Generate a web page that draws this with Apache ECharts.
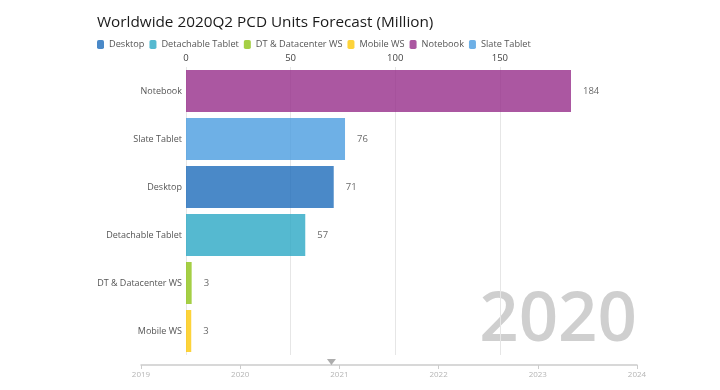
<!DOCTYPE html>
<html>
<head>
<meta charset="utf-8">
<script src="https://cdn.jsdelivr.net/npm/echarts@6/dist/echarts.min.js"></script>
<style>html,body{margin:0;padding:0;background:#fff}#c{width:720px;height:390px}</style>
</head>
<body>
<div id="c"></div>
<script>
// ---- data ----
var titleText = 'Worldwide 2020Q2 PCD Units Forecast (Million)';
var yearText = '2020';
var categories = ['Notebook', 'Slate Tablet', 'Desktop', 'Detachable Tablet', 'DT & Datacenter WS', 'Mobile WS'];
var values = [184, 76, 70.6, 57, 2.7, 2.5];
var legendOrder = ['Desktop', 'Detachable Tablet', 'DT & Datacenter WS', 'Mobile WS', 'Notebook', 'Slate Tablet'];
var colorsByName = {
  'Desktop': '#1d6bba',
  'Detachable Tablet': '#2aa7c4',
  'DT & Datacenter WS': '#8ec316',
  'Mobile WS': '#fcc809',
  'Notebook': '#962d8a',
  'Slate Tablet': '#4a9ce0'
};
var timelineStart = 2019;
var timelineEnd = 2024;
var timelinePointer = 2020.92;

// ---- chart ----
var FONT = '"Open Sans", "Noto Sans", sans-serif';
var series = legendOrder.map(function (name) {
  var idx = categories.indexOf(name);
  return {
    name: name,
    type: 'bar',
    stack: 'all',
    xAxisIndex: 0,
    yAxisIndex: 0,
    barCategoryGap: '12.5%',
    itemStyle: { color: colorsByName[name], opacity: 0.8 },
    label: {
      show: true,
      position: 'right',
      distance: 12,
      color: '#444',
      fontSize: 9.5,
      fontFamily: FONT,
      formatter: function (p) { return Math.round(p.value); }
    },
    data: categories.map(function (c, j) { return j === idx ? values[idx] : '-'; })
  };
});
series.push({
  type: 'scatter',
  xAxisIndex: 1,
  yAxisIndex: 1,
  symbol: 'triangle',
  symbolRotate: 180,
  symbolSize: [9, 6],
  symbolOffset: [0, -3],
  itemStyle: { color: '#999' },
  silent: true,
  data: [[timelinePointer, 0]]
});

var chart = echarts.init(document.getElementById('c'), null, { renderer: 'canvas' });
chart.setOption({
  animation: false,
  textStyle: { fontFamily: FONT },
  title: {
    text: titleText,
    left: 92,
    top: 10,
    textStyle: { fontFamily: FONT, fontSize: 15.3, fontWeight: 'normal', color: '#1a1a1a' }
  },
  legend: {
    data: legendOrder,
    left: 97,
    top: 40,
    icon: 'roundRect',
    itemWidth: 7,
    itemHeight: 9,
    itemGap: 5,
    padding: 0,
    textStyle: { fontFamily: FONT, fontSize: 9.2, color: '#555' }
  },
  graphic: [{
    type: 'text',
    right: 83,
    bottom: 34,
    z: 0,
    style: {
      text: yearText,
      font: '600 69px "Open Sans", sans-serif',
      fill: 'rgba(128,128,128,0.38)'
    }
  }],
  grid: [
    { left: 186, right: 149, top: 67, height: 288, containLabel: false },
    { left: 141, width: 496, top: 364, height: 1, containLabel: false }
  ],
  xAxis: [{
    gridIndex: 0,
    type: 'value',
    position: 'top',
    min: 0,
    max: 'dataMax',
    interval: 50,
    axisLine: { show: false },
    axisTick: { show: false },
    axisLabel: { color: '#444', fontSize: 9.5, fontFamily: FONT, margin: 4, showMaxLabel: false },
    splitLine: { show: true, showMaxLine: false, lineStyle: { color: '#e6e6e6', width: 1 } }
  }, {
    gridIndex: 1,
    type: 'value',
    position: 'bottom',
    min: timelineStart,
    max: timelineEnd,
    interval: 1,
    axisLine: { show: true, lineStyle: { color: '#cccccc', width: 1.5 } },
    axisTick: { show: true, length: 4, lineStyle: { color: '#cccccc', width: 1 } },
    axisLabel: { color: '#b5b5b5', fontSize: 8, fontFamily: FONT, margin: 6, formatter: function (v) { return String(v); } },
    splitLine: { show: false }
  }],
  yAxis: [{
    gridIndex: 0,
    type: 'category',
    inverse: true,
    data: categories,
    axisLine: { show: false },
    axisTick: { show: false },
    axisLabel: { color: '#555', fontSize: 9, fontFamily: FONT, margin: 4 },
    splitLine: { show: false }
  }, {
    gridIndex: 1,
    type: 'value',
    min: 0,
    max: 1,
    show: false
  }],
  series: series
});
</script>
</body>
</html>
